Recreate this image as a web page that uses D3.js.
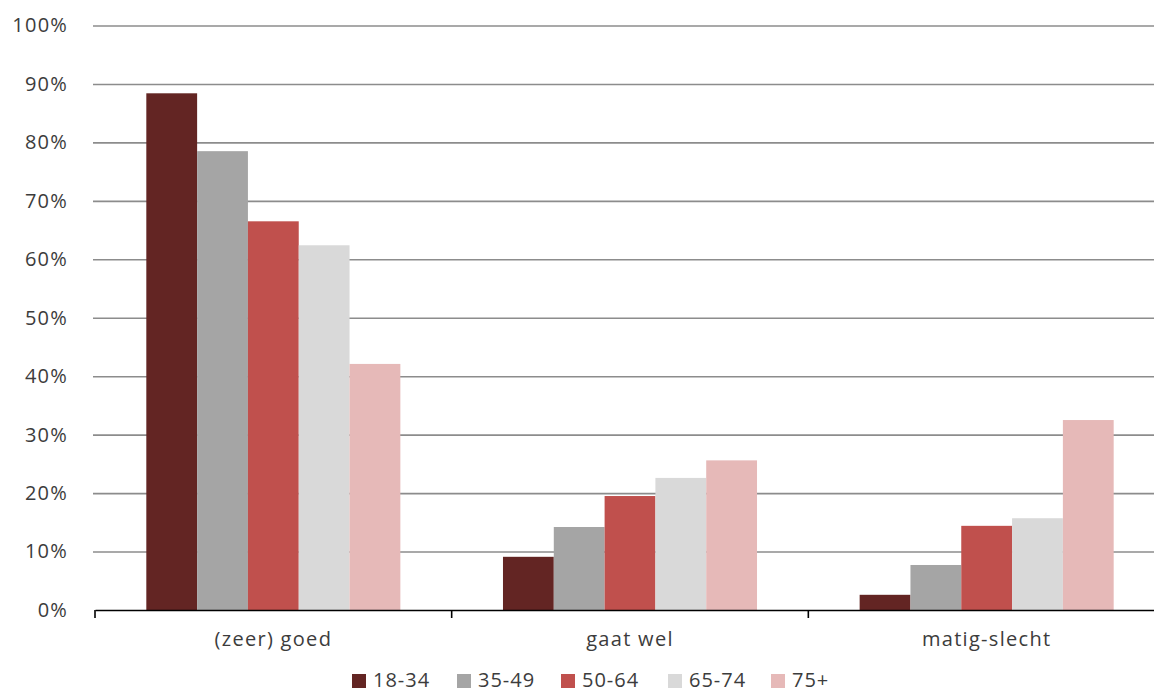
<!DOCTYPE html>
<html>
<head>
<meta charset="utf-8">
<script src="https://cdn.jsdelivr.net/npm/d3@7"></script>
<style>
  html, body { margin: 0; padding: 0; background: #fff; }
  svg { display: block; }
  text { font-family: "Open Sans", sans-serif; fill: #3c3c3c; }
</style>
</head>
<body>
<svg id="chart" width="1154" height="693"></svg>
<script>
const categories = ["(zeer) goed", "gaat wel", "matig-slecht"];
const seriesNames = ["18-34", "35-49", "50-64", "65-74", "75+"];
const values = {
  "18-34": [88.4, 9.1, 2.6],
  "35-49": [78.5, 14.2, 7.7],
  "50-64": [66.5, 19.5, 14.4],
  "65-74": [62.4, 22.6, 15.7],
  "75+":   [42.1, 25.6, 32.5]
};
const colors = ["#632523", "#a5a5a5", "#c0504d", "#d9d9d9", "#e6b9b8"];
const yTicks = [0, 10, 20, 30, 40, 50, 60, 70, 80, 90, 100];

const svg = d3.select("#chart");
const mLeft = 95, mRight = 1165, mTop = 25.5, mBottom = 610;

const x0 = d3.scaleBand().domain(categories).range([mLeft, mRight]).padding(0);
const x1 = d3.scaleBand().domain(seriesNames).range([0, x0.bandwidth()]).paddingInner(0).paddingOuter(1.01);
const y = d3.scaleLinear().domain([0, 100]).range([mBottom, mTop]);
const color = d3.scaleOrdinal().domain(seriesNames).range(colors);

// gridlines
const grid = svg.append("g").attr("transform", `translate(${mLeft - 2},0)`)
  .call(d3.axisLeft(y).tickValues(yTicks.filter(d => d > 0)).tickSize(-(1154 - mLeft + 2)).tickFormat(""));
grid.select(".domain").remove();
grid.selectAll("line").attr("stroke", "#8c8c8c").attr("stroke-width", 1.6);

// y labels
const yAx = svg.append("g").attr("transform", `translate(${mLeft},0)`)
  .call(d3.axisLeft(y).tickValues(yTicks).tickSize(0).tickPadding(27).tickFormat(d => d + "%"));
yAx.select(".domain").remove();
yAx.selectAll("text").style("font-size", "20px").style("letter-spacing", "1.2px").attr("fill", "#3c3c3c");

// bars
const groups = svg.append("g").selectAll("g")
  .data(categories).join("g")
  .attr("transform", d => `translate(${x0(d)},0)`);
groups.selectAll("rect")
  .data((d, i) => seriesNames.map(s => ({ s, v: values[s][i] })))
  .join("rect")
  .attr("x", d => x1(d.s))
  .attr("width", x1.bandwidth())
  .attr("y", d => y(d.v))
  .attr("height", d => y(0) - y(d.v))
  .attr("fill", d => color(d.s));

// x axis
const xAx = svg.append("g").attr("transform", `translate(0,${mBottom})`)
  .call(d3.axisBottom(x0).tickSize(0).tickPadding(22));
xAx.select(".domain").attr("stroke", "#000").attr("stroke-width", 1.6);
xAx.selectAll("text").style("font-size", "20px").style("letter-spacing", "1.3px").attr("fill", "#3c3c3c");
// category boundary ticks
svg.append("g").selectAll("line")
  .data(categories.concat(["end"]))
  .join("line")
  .attr("x1", (d, i) => i < categories.length ? x0(d) : mRight)
  .attr("x2", (d, i) => i < categories.length ? x0(d) : mRight)
  .attr("y1", mBottom)
  .attr("y2", mBottom + 8)
  .attr("stroke", "#000")
  .attr("stroke-width", 1.6);

// legend
const legendX = [352, 457, 561, 668, 771];
const lg = svg.append("g").selectAll("g").data(seriesNames).join("g")
  .attr("transform", (d, i) => `translate(${legendX[i]},674)`);
lg.append("rect").attr("width", 14).attr("height", 14).attr("fill", d => color(d));
lg.append("text").attr("x", 21).attr("y", 6).attr("dy", "0.36em")
  .style("font-size", "20px").style("letter-spacing", "1px").text(d => d);
</script>
</body>
</html>
